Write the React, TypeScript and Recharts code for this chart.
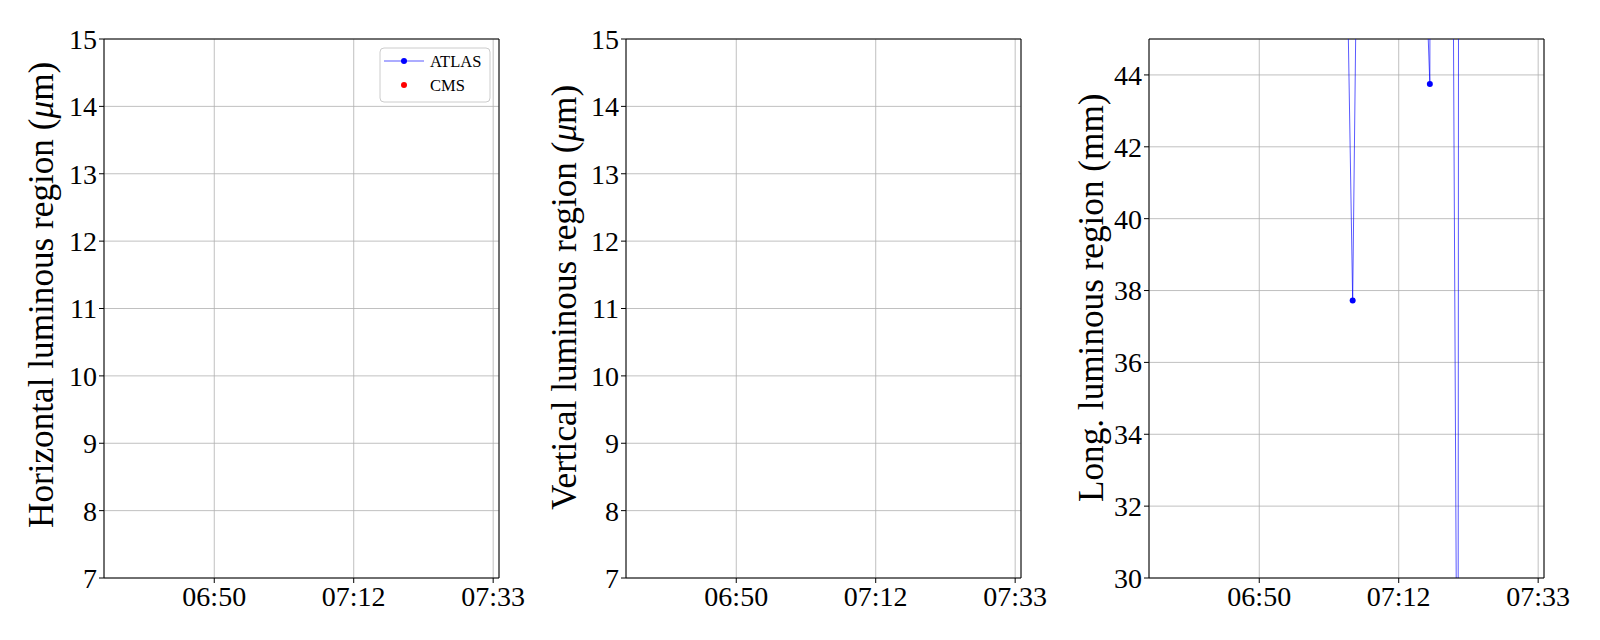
import React from "react";
import {
  LineChart,
  Line,
  XAxis,
  YAxis,
  CartesianGrid,
  ReferenceLine,
} from "recharts";

// time axis is minutes since midnight
const TIME_DOMAIN = [393.6, 454.5];
const TIME_TICKS = [410.6, 432.1, 453.6];

const TRANS_DOMAIN = [7, 15];
const TRANS_TICKS = [7, 8, 9, 10, 11, 12, 13, 14, 15];
const LONG_DOMAIN = [30, 45];
const LONG_TICKS = [30, 32, 34, 36, 38, 40, 42, 44];

// nothing falls inside the transverse windows
const atlasHorizontal: { t: number; v: number }[] = [];
const cmsHorizontal: { t: number; v: number }[] = [];
const atlasVertical: { t: number; v: number }[] = [];
const cmsVertical: { t: number; v: number }[] = [];

// longitudinal: only a few dips reach into the window
const atlasLongTime = [424.0, 425.0, 426.0, 435.9, 436.9, 437.0, 440.24, 441.24, 441.34];
const atlasLongValue = [48.7, 37.72, 53.5, 48.8, 43.75, 55, 56.1, 20, 52.5];
const atlasLong = atlasLongTime.map((t, i) => ({ t, v: atlasLongValue[i] }));
const cmsLong: { t: number; v: number }[] = [];

const FONT = "'Liberation Serif', 'Times New Roman', serif";
const PLOT_W = 395;
const PLOT_TOP = 39;
const PLOT_BOTTOM = 578;
const AXIS_W = 100;
const RIGHT_PAD = 45;

const fmtTime = (m: number) => {
  const mm = Math.floor(m);
  const h = Math.floor(mm / 60);
  const r = mm % 60;
  return `${String(h).padStart(2, "0")}:${String(r).padStart(2, "0")}`;
};

type Pt = { t: number; v: number };

type PanelProps = {
  left: number;
  yDomain: number[];
  yTicks: number[];
  atlas: Pt[];
  cms: Pt[];
};

const Panel = ({ left, yDomain, yTicks, atlas, cms }: PanelProps) => {
  const tickStyle = { fontSize: 28, fill: "#000", fontFamily: FONT };
  return (
    <div style={{ position: "absolute", left: left - AXIS_W, top: 0 }}>
      <LineChart
        width={AXIS_W + PLOT_W + RIGHT_PAD}
        height={640}
        margin={{ top: PLOT_TOP, right: RIGHT_PAD, bottom: 0, left: 0 }}
      >
        <CartesianGrid stroke="#b0b0b0" strokeWidth={0.8} />
        <XAxis
          dataKey="t"
          type="number"
          domain={TIME_DOMAIN}
          ticks={TIME_TICKS}
          tickFormatter={fmtTime}
          allowDataOverflow
          height={640 - PLOT_BOTTOM}
          tick={tickStyle}
          tickSize={5}
          tickMargin={3}
          stroke="#000"
          interval={0}
        />
        <YAxis
          type="number"
          domain={yDomain}
          ticks={yTicks}
          allowDataOverflow
          width={AXIS_W}
          tick={tickStyle}
          tickSize={5}
          tickMargin={2}
          stroke="#000"
          interval={0}
        />
        <ReferenceLine y={yDomain[1]} stroke="#000" />
        <ReferenceLine x={TIME_DOMAIN[1]} stroke="#000" />
        <Line
          data={atlas}
          dataKey="v"
          name="ATLAS"
          stroke="#0000ff"
          strokeOpacity={0.65}
          strokeWidth={1}
          dot={{ r: 3, fill: "#0000ff", stroke: "#0000ff", strokeWidth: 0 }}
          activeDot={false}
          isAnimationActive={false}
        />
        <Line
          data={cms}
          dataKey="v"
          name="CMS"
          stroke="none"
          dot={{ r: 3, fill: "#ff0000", stroke: "#ff0000", strokeWidth: 0 }}
          activeDot={false}
          isAnimationActive={false}
        />
      </LineChart>
    </div>
  );
};

const LEFTS = [104, 626, 1149];
// baseline x and lower end of each rotated label
const LABEL_X = [53, 576, 1103];
const LABEL_Y = [528, 510, 502];

const YLabel = ({ x, y, children }: { x: number; y: number; children: React.ReactNode }) => (
  <text
    x={x}
    y={y}
    transform={`rotate(-90, ${x}, ${y})`}
    textAnchor="start"
    fontSize={35.2}
    fontFamily={FONT}
    fill="#000"
  >
    {children}
  </text>
);

export default function App() {
  return (
    <div
      style={{
        position: "absolute",
        left: 0,
        top: 0,
        width: 1600,
        height: 640,
        background: "#fff",
      }}
    >
      <Panel left={LEFTS[0]} yDomain={TRANS_DOMAIN} yTicks={TRANS_TICKS} atlas={atlasHorizontal} cms={cmsHorizontal} />
      <Panel left={LEFTS[1]} yDomain={TRANS_DOMAIN} yTicks={TRANS_TICKS} atlas={atlasVertical} cms={cmsVertical} />
      <Panel left={LEFTS[2]} yDomain={LONG_DOMAIN} yTicks={LONG_TICKS} atlas={atlasLong} cms={cmsLong} />
      <svg
        width={1600}
        height={640}
        style={{ position: "absolute", left: 0, top: 0, pointerEvents: "none" }}
      >
        <YLabel x={LABEL_X[0]} y={LABEL_Y[0]}>
          Horizontal luminous region (<tspan fontStyle="italic">μ</tspan>m)
        </YLabel>
        <YLabel x={LABEL_X[1]} y={LABEL_Y[1]}>
          Vertical luminous region (<tspan fontStyle="italic">μ</tspan>m)
        </YLabel>
        <YLabel x={LABEL_X[2]} y={LABEL_Y[2]}>Long. luminous region (mm)</YLabel>
        {/* legend, top right of first panel */}
        <rect x={380} y={48} width={110} height={54} rx={4} fill="#fff" fillOpacity={0.8} stroke="#cccccc" />
        <line x1={384} x2={424} y1={61} y2={61} stroke="#0000ff" strokeOpacity={0.65} strokeWidth={1} />
        <circle cx={404} cy={61} r={3} fill="#0000ff" />
        <text x={430} y={61} dominantBaseline="central" fontSize={16.5} fontFamily={FONT}>ATLAS</text>
        <circle cx={404} cy={85} r={3} fill="#ff0000" />
        <text x={430} y={85} dominantBaseline="central" fontSize={16.5} fontFamily={FONT}>CMS</text>
      </svg>
    </div>
  );
}
